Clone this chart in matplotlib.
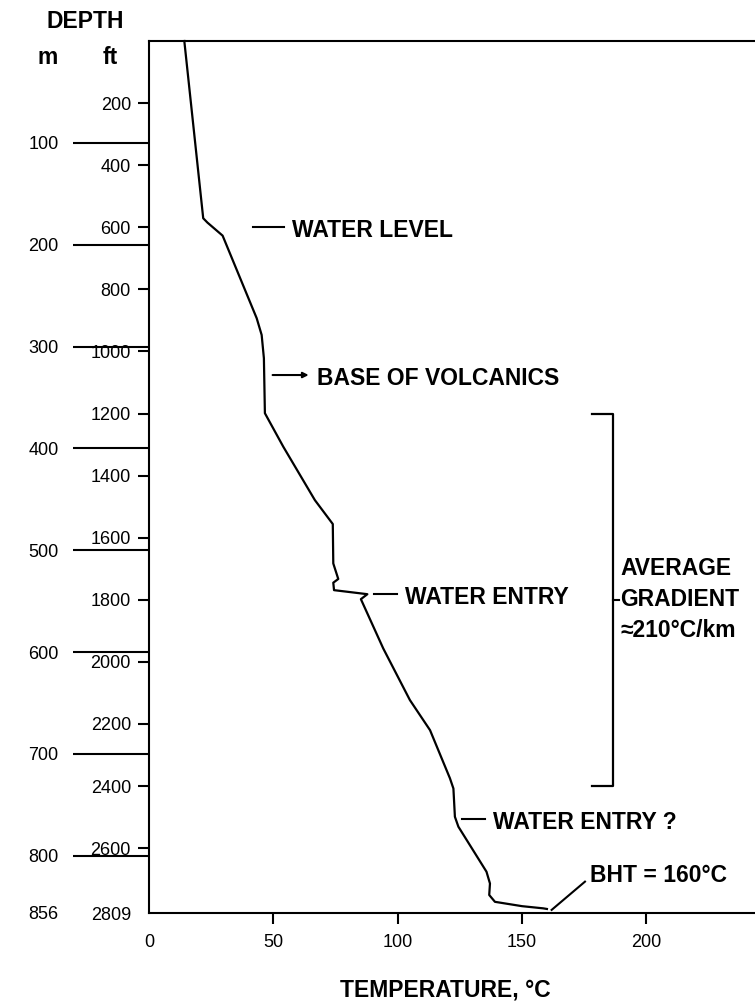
import matplotlib.pyplot as plt

plt.rcParams['font.family'] = ['Liberation Sans', 'DejaVu Sans']

# temperature log (deg C) against depth (ft)
temp_c = [14.2, 21.8, 23.5, 29.6, 43.3, 45.3, 46.2, 46.6, 54.0, 66.7, 73.9,
          74.1, 76.1, 74.1, 74.4, 87.8, 85.2, 94.2, 104.9, 113.0, 121.0,
          122.4, 123.0, 124.4, 135.7, 137.1, 136.8, 139.1, 150.0, 158.5, 160.0]
depth_ft = [0, 571, 585, 627, 893, 947, 1022, 1199, 1307, 1479, 1556,
            1683, 1733, 1745, 1769, 1782, 1798, 1957, 2123, 2220, 2375,
            2408, 2499, 2531, 2676, 2714, 2751, 2773, 2787, 2794, 2796]

ft_ticks = [200, 400, 600, 800, 1000, 1200, 1400, 1600, 1800, 2000,
            2200, 2400, 2600, 2809]
m_ticks = [100, 200, 300, 400, 500, 600, 700, 800, 856]
t_ticks = [0, 50, 100, 150, 200]
total_depth_ft = 2809

# annotations: label, depth (ft), leader start / end temperature
notes = ['WATER LEVEL', 'BASE OF VOLCANICS', 'WATER ENTRY', 'WATER ENTRY ?']
note_depth = [600, 1076, 1782, 2506]
note_t0 = [41.9, 49.7, 90.5, 126.0]
note_t1 = [54.3, 64.2, 99.6, 135.1]
gradient_top, gradient_bottom = 1200, 2400
gradient_text = 'AVERAGE\nGRADIENT\n\u2248210\u00b0C/km'
bht_text = 'BHT = 160\u00b0C'

W, H = 755, 1007
fig = plt.figure(figsize=(W / 100, H / 100), dpi=100)
left, top, bottom = 149, 41, 913
ax = fig.add_axes([left / W, 1 - bottom / H, (W - left) / W, (bottom - top) / H])
ax.set_xlim(0, (W - left) / 2.487)
ax.set_ylim(total_depth_ft, 0)

for s in ['left', 'top', 'bottom']:
    ax.spines[s].set_linewidth(1.5)
ax.spines['right'].set_visible(False)

ax.plot(temp_c, depth_ft, color='black', lw=1.6, clip_on=False)

# x axis
ax.set_xticks(t_ticks)
ax.tick_params(axis='x', direction='out', length=8, width=1.5, pad=7, labelsize=13)
ax.xaxis.get_major_ticks()[0].tick1line.set_visible(False)

# feet axis
ax.set_yticks(ft_ticks)
ax.set_yticklabels([str(v) for v in ft_ticks])
ax.tick_params(axis='y', direction='out', length=8, width=1.5, pad=5, labelsize=13)
ax.yaxis.get_major_ticks()[-1].tick1line.set_visible(False)

# metre axis
sec = ax.secondary_yaxis('left', functions=(lambda f: f * 0.3048, lambda m: m / 0.3048))
sec.set_yticks(m_ticks)
sec.set_yticklabels([str(v) for v in m_ticks])
sec.tick_params(direction='out', length=55, width=1.5, pad=10, labelsize=13)
sec.spines['left'].set_visible(False)
sec.yaxis.get_major_ticks()[-1].tick1line.set_visible(False)

fs = 16.5
for label, d, t0, t1 in zip(notes, note_depth, note_t0, note_t1):
    if label.startswith('BASE'):
        ax.annotate('', xy=(t1, d), xytext=(t0, d),
                    arrowprops=dict(arrowstyle='-|>', color='black', lw=1.5,
                                    mutation_scale=8, shrinkA=0, shrinkB=0))
    else:
        ax.plot([t0, t1], [d, d], color='black', lw=1.5)
    ax.text(t1 + 3.3, d + 10, label, fontsize=fs, fontweight='bold', va='center')

# bottom-hole temperature
ax.plot([161.9, 175.3], [2799, 2708], color='black', lw=1.5, clip_on=False)
ax.text(177.3, 2689, bht_text, fontsize=fs, fontweight='bold', va='center')

# gradient bracket
bx0, bx1 = 178.0, 186.7
mid = (gradient_top + gradient_bottom) / 2
ax.plot([bx0, bx1, bx1, bx0], [gradient_top, gradient_top, gradient_bottom, gradient_bottom],
        color='black', lw=1.6)
ax.plot([bx1, bx1 + 2.2], [mid, mid], color='black', lw=1.5)
ax.text(bx1 + 2.8, mid, gradient_text, fontsize=fs, fontweight='bold',
        va='center', ha='left', linespacing=1.45)

# titles
fig.text(85 / W, 1 - 22 / H, 'DEPTH', fontsize=fs, fontweight='bold', ha='center', va='center')
fig.text(48 / W, 1 - 57 / H, 'm', fontsize=fs, fontweight='bold', ha='center', va='center')
fig.text(110 / W, 1 - 57 / H, 'ft', fontsize=fs, fontweight='bold', ha='center', va='center')
fig.text(445 / W, 1 - 990 / H, 'TEMPERATURE, \u00b0C', fontsize=fs, fontweight='bold',
         ha='center', va='center')

fig.savefig('out.png', dpi=100)
